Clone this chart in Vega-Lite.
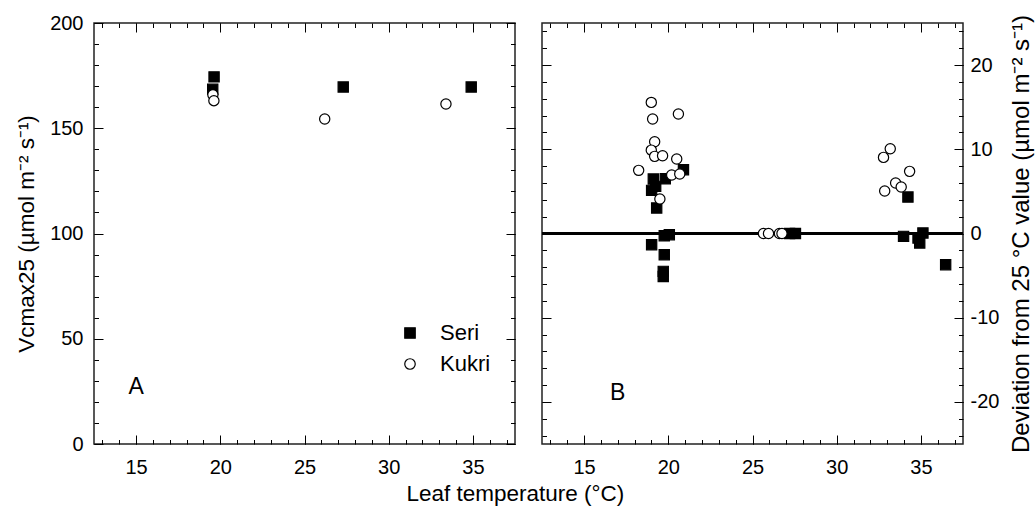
{
  "$schema": "https://vega.github.io/schema/vega-lite/v6.json",
  "background": "white",
  "padding": {"left": 14, "top": 12, "right": 5, "bottom": 8},
  "title": {"text": "Leaf temperature (°C)", "orient": "bottom", "anchor": "middle", "fontSize": 22.5, "fontWeight": "normal", "font": "Liberation Sans", "color": "black", "offset": 5, "dx": -9},
  "datasets": {
    "a": [
      {"t": 19.63, "v": 174.4, "cultivar": "Seri"},
      {"t": 19.55, "v": 168.5, "cultivar": "Seri"},
      {"t": 27.3, "v": 169.6, "cultivar": "Seri"},
      {"t": 34.9, "v": 169.6, "cultivar": "Seri"},
      {"t": 19.56, "v": 165.9, "cultivar": "Kukri"},
      {"t": 19.62, "v": 163.1, "cultivar": "Kukri"},
      {"t": 26.2, "v": 154.4, "cultivar": "Kukri"},
      {"t": 33.4, "v": 161.5, "cultivar": "Kukri"}
    ],
    "b": [
      {"t": 20.9, "v": 7.58, "cultivar": "Seri"},
      {"t": 19.11, "v": 6.47, "cultivar": "Seri"},
      {"t": 19.82, "v": 6.5, "cultivar": "Seri"},
      {"t": 19.01, "v": 5.12, "cultivar": "Seri"},
      {"t": 19.25, "v": 5.6, "cultivar": "Seri"},
      {"t": 19.31, "v": 3.03, "cultivar": "Seri"},
      {"t": 19.01, "v": -1.33, "cultivar": "Seri"},
      {"t": 19.76, "v": -0.26, "cultivar": "Seri"},
      {"t": 20.06, "v": -0.14, "cultivar": "Seri"},
      {"t": 19.76, "v": -2.52, "cultivar": "Seri"},
      {"t": 19.7, "v": -4.5, "cultivar": "Seri"},
      {"t": 19.7, "v": -5.1, "cultivar": "Seri"},
      {"t": 27.2, "v": 0, "cultivar": "Seri"},
      {"t": 27.55, "v": 0, "cultivar": "Seri"},
      {"t": 34.23, "v": 4.33, "cultivar": "Seri"},
      {"t": 33.97, "v": -0.34, "cultivar": "Seri"},
      {"t": 35.12, "v": 0.06, "cultivar": "Seri"},
      {"t": 34.83, "v": -0.54, "cultivar": "Seri"},
      {"t": 34.93, "v": -1.13, "cultivar": "Seri"},
      {"t": 36.47, "v": -3.7, "cultivar": "Seri"},
      {"t": 18.99, "v": 15.57, "cultivar": "Kukri"},
      {"t": 19.07, "v": 13.6, "cultivar": "Kukri"},
      {"t": 20.6, "v": 14.2, "cultivar": "Kukri"},
      {"t": 19.19, "v": 10.9, "cultivar": "Kukri"},
      {"t": 18.99, "v": 9.9, "cultivar": "Kukri"},
      {"t": 19.19, "v": 9.16, "cultivar": "Kukri"},
      {"t": 19.66, "v": 9.24, "cultivar": "Kukri"},
      {"t": 20.5, "v": 8.85, "cultivar": "Kukri"},
      {"t": 18.24, "v": 7.5, "cultivar": "Kukri"},
      {"t": 20.2, "v": 6.95, "cultivar": "Kukri"},
      {"t": 20.68, "v": 7.07, "cultivar": "Kukri"},
      {"t": 19.5, "v": 4.1, "cultivar": "Kukri"},
      {"t": 25.65, "v": 0, "cultivar": "Kukri"},
      {"t": 25.95, "v": 0, "cultivar": "Kukri"},
      {"t": 26.6, "v": 0, "cultivar": "Kukri"},
      {"t": 26.75, "v": 0, "cultivar": "Kukri"},
      {"t": 33.18, "v": 10.07, "cultivar": "Kukri"},
      {"t": 32.78, "v": 9.04, "cultivar": "Kukri"},
      {"t": 34.33, "v": 7.38, "cultivar": "Kukri"},
      {"t": 33.5, "v": 6.0, "cultivar": "Kukri"},
      {"t": 33.83, "v": 5.52, "cultivar": "Kukri"},
      {"t": 32.85, "v": 5.05, "cultivar": "Kukri"}
    ],
    "labA": [{"t": 15, "v": 27, "lab": "A"}],
    "labB": [{"t": 17, "v": -19, "lab": "B"}]
  },
  "spacing": 23,
  "resolve": {"scale": {"shape": "independent", "fill": "independent", "stroke": "independent"}, "legend": {"shape": "independent", "fill": "independent", "stroke": "independent"}},
  "hconcat": [
    {
      "width": 421, "height": 421,
      "resolve": {"axis": {"x": "independent", "y": "independent"}},
      "layer": [
        {
          "data": {"name": "a"},
          "mark": {"type": "point", "filled": true, "size": 105, "strokeWidth": 1.2, "opacity": 1},
          "encoding": {
            "x": {"field": "t", "type": "quantitative", "scale": {"domain": [12.5, 37.5], "nice": false, "zero": false},
                  "axis": {"orient": "bottom", "values": [15, 20, 25, 30, 35], "tickSize": -9, "labelPadding": 22, "title": null}},
            "y": {"field": "v", "type": "quantitative", "scale": {"domain": [0, 200], "nice": false, "zero": false},
                  "axis": {"orient": "left", "values": [0, 50, 100, 150, 200], "tickSize": -9, "labelPadding": 20, "title": "Vcmax25 (µmol m⁻² s⁻¹)", "titleFontSize": 22.5, "titlePadding": 11}},
            "shape": {"field": "cultivar", "type": "nominal", "scale": {"domain": ["Seri", "Kukri"], "range": ["square", "circle"]},
                      "legend": {"title": null, "orient": "none", "legendX": 305, "legendY": 299, "labelFontSize": 22, "labelOffset": 19, "rowPadding": 9, "padding": 0, "symbolSize": 110, "symbolStrokeWidth": 1.2, "labelColor": "black", "labelFont": "Liberation Sans"}},
            "fill": {"field": "cultivar", "type": "nominal", "scale": {"domain": ["Seri", "Kukri"], "range": ["black", "white"]},
                      "legend": {"title": null, "orient": "none", "legendX": 305, "legendY": 299, "labelFontSize": 22, "labelOffset": 19, "rowPadding": 9, "padding": 0, "symbolSize": 110, "symbolStrokeWidth": 1.2, "labelColor": "black", "labelFont": "Liberation Sans"}},
            "stroke": {"field": "cultivar", "type": "nominal", "scale": {"domain": ["Seri", "Kukri"], "range": ["black", "black"]},
                      "legend": {"title": null, "orient": "none", "legendX": 305, "legendY": 299, "labelFontSize": 22, "labelOffset": 19, "rowPadding": 9, "padding": 0, "symbolSize": 110, "symbolStrokeWidth": 1.2, "labelColor": "black", "labelFont": "Liberation Sans"}}
          }
        },
        {
          "data": {"name": "a"},
          "mark": {"type": "point", "opacity": 0},
          "encoding": {
            "x": {"field": "t", "type": "quantitative", "axis": {"orient": "bottom", "values": [13,14,15,16,17,18,19,20,21,22,23,24,25,26,27,28,29,30,31,32,33,34,35,36,37], "tickSize": -4.5, "labels": false, "title": null}},
            "y": {"field": "v", "type": "quantitative", "axis": {"orient": "left", "values": [0,10,20,30,40,50,60,70,80,90,100,110,120,130,140,150,160,170,180,190,200], "tickSize": -4.5, "labels": false, "title": null}}
          }
        },
        {
          "data": {"name": "a"},
          "mark": {"type": "point", "opacity": 0},
          "encoding": {
            "x": {"field": "t", "type": "quantitative", "axis": {"orient": "top", "values": [15, 20, 25, 30, 35], "tickSize": -9, "labels": false, "title": null}},
            "y": {"field": "v", "type": "quantitative", "axis": {"orient": "right", "values": [0, 50, 100, 150, 200], "tickSize": -9, "labels": false, "title": null}}
          }
        },
        {
          "data": {"name": "a"},
          "mark": {"type": "point", "opacity": 0},
          "encoding": {
            "x": {"field": "t", "type": "quantitative", "axis": {"orient": "top", "values": [13,14,15,16,17,18,19,20,21,22,23,24,25,26,27,28,29,30,31,32,33,34,35,36,37], "tickSize": -4.5, "labels": false, "title": null}},
            "y": {"field": "v", "type": "quantitative", "axis": {"orient": "right", "values": [0,10,20,30,40,50,60,70,80,90,100,110,120,130,140,150,160,170,180,190,200], "tickSize": -4.5, "labels": false, "title": null}}
          }
        },
        {
          "data": {"name": "labA"},
          "mark": {"type": "text", "fontSize": 23, "align": "center", "baseline": "middle", "color": "black", "font": "Liberation Sans"},
          "encoding": {
            "x": {"field": "t", "type": "quantitative", "axis": null},
            "y": {"field": "v", "type": "quantitative", "axis": null},
            "text": {"field": "lab"}
          }
        }
      ]
    },
    {
      "width": 421, "height": 421,
      "resolve": {"axis": {"x": "independent", "y": "independent"}},
      "layer": [
        {
          "data": {"name": "b"},
          "mark": {"type": "rule", "stroke": "black", "strokeWidth": 1.5},
          "encoding": {
            "y": {"datum": 0, "type": "quantitative", "axis": null}
          }
        },
        {
          "data": {"name": "b"},
          "mark": {"type": "point", "filled": true, "size": 105, "strokeWidth": 1.2, "opacity": 1},
          "encoding": {
            "x": {"field": "t", "type": "quantitative", "scale": {"domain": [12.5, 37.5], "nice": false, "zero": false},
                  "axis": {"orient": "bottom", "values": [15, 20, 25, 30, 35], "tickSize": -9, "labelPadding": 22, "title": null}},
            "y": {"field": "v", "type": "quantitative", "scale": {"domain": [-25, 25], "nice": false, "zero": false},
                  "axis": {"orient": "right", "values": [-20, -10, 0, 10, 20], "labelExpr": "datum.value < 0 ? '-' + abs(datum.value) : '' + datum.value", "tickSize": -9, "labelPadding": 16, "title": "Deviation from 25 °C value (µmol m⁻² s⁻¹)", "titleFontSize": 24, "titleAngle": 270, "titleBaseline": "alphabetic", "titleAlign": "center", "titleX": 65, "titleY": 210.5}},
            "shape": {"field": "cultivar", "type": "nominal", "scale": {"domain": ["Seri", "Kukri"], "range": ["square", "circle"]}, "legend": null},
            "fill": {"field": "cultivar", "type": "nominal", "scale": {"domain": ["Seri", "Kukri"], "range": ["black", "white"]}, "legend": null},
            "stroke": {"field": "cultivar", "type": "nominal", "scale": {"domain": ["Seri", "Kukri"], "range": ["black", "black"]}, "legend": null}
          }
        },
        {
          "data": {"name": "b"},
          "mark": {"type": "point", "opacity": 0},
          "encoding": {
            "x": {"field": "t", "type": "quantitative", "axis": {"orient": "bottom", "values": [13,14,15,16,17,18,19,20,21,22,23,24,25,26,27,28,29,30,31,32,33,34,35,36,37], "tickSize": -4.5, "labels": false, "title": null}},
            "y": {"field": "v", "type": "quantitative", "axis": {"orient": "right", "values": [-24,-22,-20,-18,-16,-14,-12,-10,-8,-6,-4,-2,0,2,4,6,8,10,12,14,16,18,20,22,24], "tickSize": -4.5, "labels": false, "title": null}}
          }
        },
        {
          "data": {"name": "b"},
          "mark": {"type": "point", "opacity": 0},
          "encoding": {
            "x": {"field": "t", "type": "quantitative", "axis": {"orient": "top", "values": [15, 20, 25, 30, 35], "tickSize": -9, "labels": false, "title": null}},
            "y": {"field": "v", "type": "quantitative", "axis": {"orient": "left", "values": [-20, -10, 0, 10, 20], "tickSize": -9, "labels": false, "title": null}}
          }
        },
        {
          "data": {"name": "b"},
          "mark": {"type": "point", "opacity": 0},
          "encoding": {
            "x": {"field": "t", "type": "quantitative", "axis": {"orient": "top", "values": [13,14,15,16,17,18,19,20,21,22,23,24,25,26,27,28,29,30,31,32,33,34,35,36,37], "tickSize": -4.5, "labels": false, "title": null}},
            "y": {"field": "v", "type": "quantitative", "axis": {"orient": "left", "values": [-24,-22,-20,-18,-16,-14,-12,-10,-8,-6,-4,-2,0,2,4,6,8,10,12,14,16,18,20,22,24], "tickSize": -4.5, "labels": false, "title": null}}
          }
        },
        {
          "data": {"name": "labB"},
          "mark": {"type": "text", "fontSize": 23, "align": "center", "baseline": "middle", "color": "black", "font": "Liberation Sans"},
          "encoding": {
            "x": {"field": "t", "type": "quantitative", "axis": null},
            "y": {"field": "v", "type": "quantitative", "axis": null},
            "text": {"field": "lab"}
          }
        }
      ]
    }
  ],
  "config": {
    "font": "Liberation Sans",
    "view": {"stroke": "#222222", "strokeWidth": 1.5},
    "axis": {"domain": false, "grid": false, "ticks": true, "tickColor": "black", "tickWidth": 1, "labelFontSize": 20, "labelColor": "black", "labelFont": "Liberation Sans", "titleFontSize": 22, "titleFontWeight": "normal", "titleColor": "black", "titleFont": "Liberation Sans"}
  }
}
